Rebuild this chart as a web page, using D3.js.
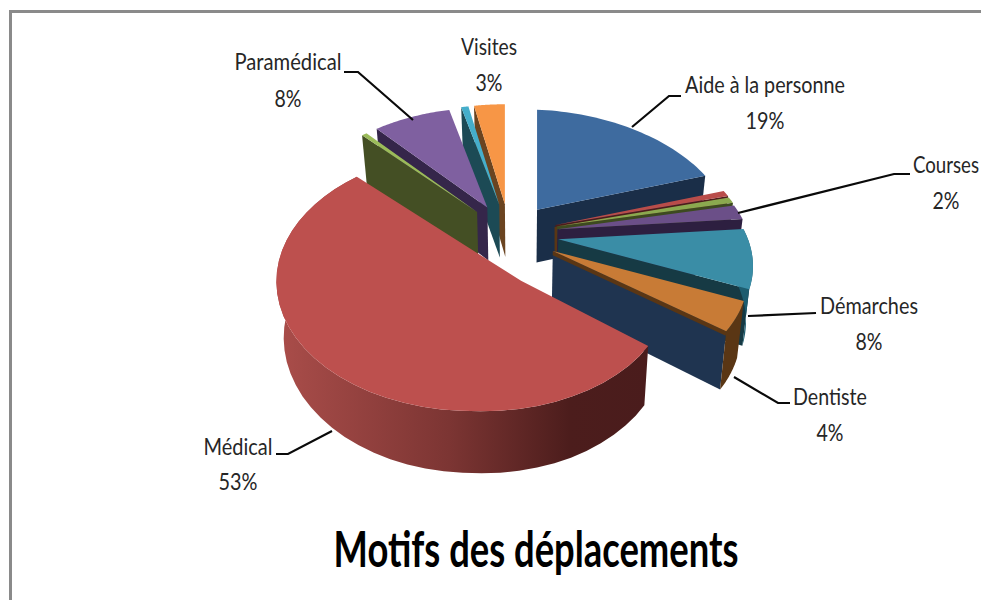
<!DOCTYPE html>
<html>
<head>
<meta charset="utf-8">
<script src="https://cdn.jsdelivr.net/npm/d3@7"></script>
<style>
  html, body { margin: 0; padding: 0; background: #fff; }
  svg { display: block; }
  text { font-family: Lato, "Open Sans", sans-serif; }
</style>
</head>
<body>
<div id="chart-area"></div>
<script>
const WIDTH = 981
const HEIGHT = 600

// clockwise from twelve o'clock, the unlabelled slivers have no name
const categories = ["Aide à la personne", "", "", "Courses", "Démarches", "Dentiste", "Médical", "", "Paramédical", "", "Visites"]
const shares = [19, 0.8, 0.8, 2, 8.1, 4.1, 53.45, 0.5, 7.55, 0.7, 3]

const topColors = ["#3e6b9f", "#b94d4a", "#8ba94f", "#6b4f88", "#3a8da6", "#c87b36", "#bd504e", "#9bbb59", "#7f60a0", "#45aecb", "#f79646"]
const faceColors = ["#1a2e48", "#4d1c1b", "#3d4a20", "#2d1f40", "#163a44", "#1f3450", null, "#444f24", "#35264a", "#1c4a55", "#6b4420"]
const wallColors = [null, null, null, null, "#1d5c6e", "#5a3614", "url(#medical-wall)", null, null, null, null]

// painter's order: right side top to bottom, left side back to front, big slice last
const drawOrder = [0, 1, 2, 3, 4, 5, 10, 9, 8, 7, 6]

// label centre and baselines, then the leader line
const labelSpots = {
    "Aide à la personne": { x: 765, y: 93, y2: 129, w: 160, w2: 39, lead: [[632, 127], [669, 96], [681, 96]] },
    "Courses": { x: 946, y: 173, y2: 209, w: 66, w2: 27, lead: [[738, 213], [894, 174], [910, 174]] },
    "Démarches": { x: 869, y: 314, y2: 350, w: 98, w2: 27, lead: [[748, 316], [816, 313]] },
    "Dentiste": { x: 830, y: 405, y2: 441, w: 74, w2: 27, lead: [[734, 377], [778, 403], [790, 403]] },
    "Médical": { x: 238, y: 455, y2: 490, w: 69, w2: 39, lead: [[332, 431], [288, 454], [276, 454]] },
    "Paramédical": { x: 288, y: 70, y2: 107, w: 107, w2: 27, lead: [[413, 120], [358, 72], [344, 72]] },
    "Visites": { x: 489, y: 55, y2: 91, w: 56, w2: 27, lead: [] }
}

// tilted disc seen in perspective
const CENTER = [509.5, 236]
const EXPLODE = 49
const SQUASH = 0.65
const RX = 192
const RY = 116.7
const PERSP = 0.1667
const SHEAR = 7
const MEDICAL = 6
const MEDICAL_SCALE = [1.01, 1.08]
const MEDICAL_SHIFT = -4
const MEDICAL_NOTCH = [44, 21]

const svg = d3.select("#chart-area").append("svg")
    .attr("width", WIDTH)
    .attr("height", HEIGHT)

const wallGrad = svg.append("defs").append("linearGradient")
    .attr("id", "medical-wall")
    .attr("gradientUnits", "userSpaceOnUse")
    .attr("x1", 285).attr("x2", 650).attr("y1", 0).attr("y2", 0)
wallGrad.append("stop").attr("offset", "0").attr("stop-color", "#a84c49")
wallGrad.append("stop").attr("offset", "0.45").attr("stop-color", "#7c3533")
wallGrad.append("stop").attr("offset", "0.78").attr("stop-color", "#4c1d1c")
wallGrad.append("stop").attr("offset", "1").attr("stop-color", "#4a1c1c")

// frame, only top and left are in the picture
svg.append("path")
    .attr("d", d3.line()([[10.5, HEIGHT], [10.5, 11.5], [WIDTH, 11.5]]))
    .attr("fill", "none")
    .attr("stroke", "#8a8a8a")
    .attr("stroke-width", 3)

const pie = d3.pie().sort(null).value(d => d)
const slices = pie(shares)
const polygon = d3.line().curve(d3.curveLinearClosed)

const apexOf = d => {
    const mid = (d.startAngle + d.endAngle) / 2
    return [
        CENTER[0] + EXPLODE * Math.sin(mid),
        CENTER[1] - EXPLODE * SQUASH * Math.cos(mid)
    ]
}

const rimPoint = (d, angle) => {
    const c = apexOf(d)
    const isMedical = d.index === MEDICAL
    const s = isMedical ? MEDICAL_SCALE : [1, 1]
    const w = 1 + PERSP * Math.cos(angle)
    return [
        c[0] + (isMedical ? MEDICAL_SHIFT : 0) + s[0] * RX * Math.sin(angle) / w,
        c[1] - s[1] * RY * Math.cos(angle) / w + SHEAR * Math.max(Math.sin(angle), 0)
    ]
}

const rimPoints = d => d3.range(41).map(i =>
    rimPoint(d, d.startAngle + (d.endAngle - d.startAngle) * i / 40))

// drop a point down the height of the pie, t is the fraction of the height
const sink = (p, t) => {
    const depth = 53 + (p[1] - 212) * 0.045
    return [520 + (p[0] - 520) * (1 - 0.03 * t), p[1] + depth * t]
}

const g = svg.append("g")

drawOrder.forEach(i => {
    const d = slices[i]
    const apex = apexOf(d)
    const rim = rimPoints(d)
    const onRight = (d.startAngle + d.endAngle) / 2 < Math.PI
    const edge = onRight ? rim[rim.length - 1] : rim[0]

    if (faceColors[i]) {
        g.append("path")
            .attr("d", polygon([apex, edge, sink(edge, 1), sink(apex, 1)]))
            .attr("fill", faceColors[i])
    }
    // the thin brown lip along the Dentiste cut
    if (categories[i] === "Dentiste") {
        g.append("path")
            .attr("d", polygon([apex, edge, sink(edge, 0.08), sink(apex, 0.08)]))
            .attr("fill", wallColors[i])
        g.append("path")
            .attr("d", d3.line()([[apex[0] + 3, apex[1]], [apex[0] + 3, apex[1] - 24]]))
            .attr("stroke", wallColors[i])
            .attr("stroke-width", 2.5)
    }
    if (wallColors[i]) {
        g.append("path")
            .attr("d", polygon(rim.concat(rim.map(p => sink(p, 1)).reverse())))
            .attr("fill", wallColors[i])
    }

    const face = i === MEDICAL
        ? rim.concat([[apex[0] + MEDICAL_NOTCH[0], apex[1] + MEDICAL_NOTCH[1]]])
        : rim.concat([apex])
    g.append("path")
        .attr("d", polygon(face))
        .attr("fill", topColors[i])
})

// squeeze a text to the width it has in the picture
const fitText = (str, x, y, w, size, weight, color) => {
    const t = svg.append("text")
        .attr("text-anchor", "middle")
        .attr("font-size", size + "px")
        .attr("font-weight", weight)
        .attr("fill", color)
        .text(str)
    const natural = t.node().getComputedTextLength()
    t.attr("transform", `translate(${x}, ${y}) scale(${w / natural}, 1)`)
}

// labels
slices.filter((d, i) => categories[i]).forEach(d => {
    const name = categories[d.index]
    const spot = labelSpots[name]

    if (spot.lead.length) {
        svg.append("path")
            .attr("d", d3.line()(spot.lead))
            .attr("fill", "none")
            .attr("stroke", "#0a0a0a")
            .attr("stroke-width", 2.2)
    }

    fitText(name, spot.x, spot.y, spot.w, 24, "normal", "#262626")
    fitText(Math.round(d.data) + "%", spot.x, spot.y2, spot.w2, 24, "normal", "#262626")
})

fitText("Motifs des déplacements", 536, 567, 405, 50, "bold", "#000")
</script>
</body>
</html>
